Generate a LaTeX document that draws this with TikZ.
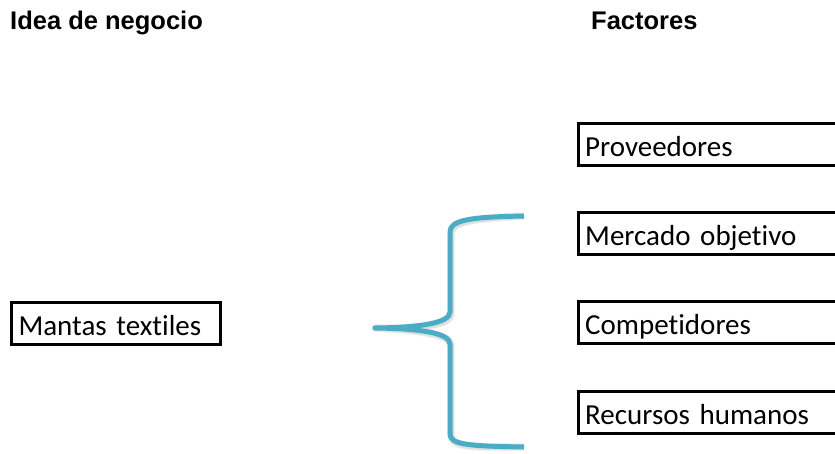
\documentclass[tikz,border=0pt]{standalone}
\usepackage{fontspec}
\setmainfont{Carlito}[RawFeature={-liga;-clig}]
\newfontfamily\headfont{Liberation Sans}
\definecolor{braceblue}{HTML}{4BACC6}

\begin{document}
\begin{tikzpicture}[x=1pt,y=-1pt,
  boxbase/.style={draw=black, line width=3pt, outer sep=0pt, anchor=north west,
    inner xsep=7pt, inner ysep=0pt, text height=33pt, text depth=9pt,
    align=left, font=\fontsize{29}{32}\selectfont},
  factor/.style={boxbase, text width=262pt},
  idea/.style={boxbase, text width=194.5pt},
  header/.style={anchor=base west, inner sep=0pt,
    font=\headfont\bfseries\fontsize{25.5}{28}\selectfont},
  bracestroke/.style={line width=5pt, line join=round}]
\useasboundingbox (0,0) rectangle (835,453);
\clip (0,0) rectangle (835,453);
\fill[white] (0,0) rectangle (835,453);

% column headings
\node[header] (hidea) at (10,29.3) {Idea de negocio};
\node[header] (hfact) at (591,29.3) {Factores};

% business idea
\node[idea] (mantas) at (11.5,302.3) {Mantas textiles};

% factor boxes (open towards the right margin)
\node[factor] (prov) at (578.2,123.3) {Proveedores};
\node[factor] (merc) at (578.2,212.5) {Mercado objetivo};
\node[factor] (comp) at (578.2,301.8) {Competidores};
\node[factor] (recu) at (578.2,391.0) {Recursos humanos};

% curly brace grouping the factors, with a soft shadow
\coordinate (btop) at (524,216);
\coordinate (btip) at (375,328);
\coordinate (bbot) at (524,447);
\def\bracepath{(btop) .. controls (470,217) and (450,220) .. (450,232)
  -- (450,312) .. controls (450,323) and (420,327.5) .. (btip)
  .. controls (420,328.5) and (450,333) .. (450,344)
  -- (450,434) .. controls (450,445) and (470,446) .. (bbot)}
\begin{scope}[shift={(1.2,1.8)}]
  \draw[bracestroke, black, opacity=0.05, line width=8pt] \bracepath;
  \draw[bracestroke, black, opacity=0.08, line width=6pt] \bracepath;
\end{scope}
\draw[bracestroke, braceblue] \bracepath;
\end{tikzpicture}
\end{document}
